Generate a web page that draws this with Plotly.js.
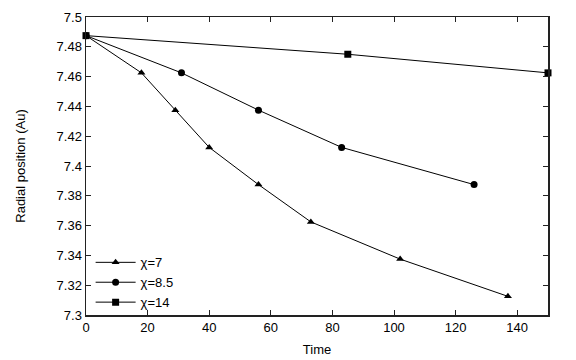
<!DOCTYPE html>
<html>
<head>
<meta charset="utf-8">
<script src="https://cdn.plot.ly/plotly-3.0.1.min.js"></script>
<style>
  body { margin: 0; background: white; }
  #myDiv { width: 576px; height: 360px; }
</style>
</head>
<body>
<div id="myDiv"></div>
<script>
// chi = 7
var timeA = [0, 18, 29, 40, 56, 73, 102, 137];
var radA = [7.4875, 7.4625, 7.4375, 7.4125, 7.3875, 7.3625, 7.3375, 7.3125];

// chi = 8.5
var timeB = [0, 31, 56, 83, 126];
var radB = [7.4875, 7.4625, 7.4375, 7.4125, 7.3875];

// chi = 14
var timeC = [0, 85, 150];
var radC = [7.4875, 7.475, 7.4625];

var names = ['χ=7', 'χ=8.5', 'χ=14'];

var trace1 = {
  x: timeA, y: radA, name: names[0],
  mode: 'lines+markers', type: 'scatter',
  line: { color: 'black', width: 1 },
  marker: { symbol: 'triangle-up', size: 7, color: 'black' }
};

var trace2 = {
  x: timeB, y: radB, name: names[1],
  mode: 'lines+markers', type: 'scatter',
  line: { color: 'black', width: 1 },
  marker: { symbol: 'circle', size: 7, color: 'black' }
};

var trace3 = {
  x: timeC, y: radC, name: names[2],
  mode: 'lines+markers', type: 'scatter',
  line: { color: 'black', width: 1 },
  marker: { symbol: 'square', size: 7, color: 'black' },
  cliponaxis: false
};

var data = [trace1, trace2, trace3];

var axisStyle = {
  showgrid: false,
  zeroline: false,
  showline: true,
  mirror: 'allticks',
  linecolor: '#222',
  linewidth: 1.5,
  ticks: 'inside',
  ticklen: 5,
  tickcolor: '#222',
  tickfont: { size: 13, color: 'black' }
};

var layout = {
  width: 576,
  height: 360,
  margin: { l: 86, r: 28, t: 17, b: 45 },
  font: { family: 'Liberation Sans, Arial, sans-serif', size: 13, color: 'black' },
  plot_bgcolor: 'white',
  paper_bgcolor: 'white',
  showlegend: true,
  legend: {
    x: 0.01, y: -0.008, xanchor: 'left', yanchor: 'bottom',
    bgcolor: 'rgba(0,0,0,0)',
    itemwidth: 40,
    tracegroupgap: 0,
    font: { size: 13 }
  },
  xaxis: Object.assign({}, axisStyle, {
    range: [0, 150],
    dtick: 20,
    title: { text: 'Time', standoff: 11, font: { size: 13 } }
  }),
  yaxis: Object.assign({}, axisStyle, {
    range: [7.3, 7.5],
    dtick: 0.02,
    title: { text: 'Radial position (Au)', standoff: 28, font: { size: 13 } }
  })
};

Plotly.newPlot('myDiv', data, layout, { displayModeBar: false, staticPlot: true });
</script>
</body>
</html>
